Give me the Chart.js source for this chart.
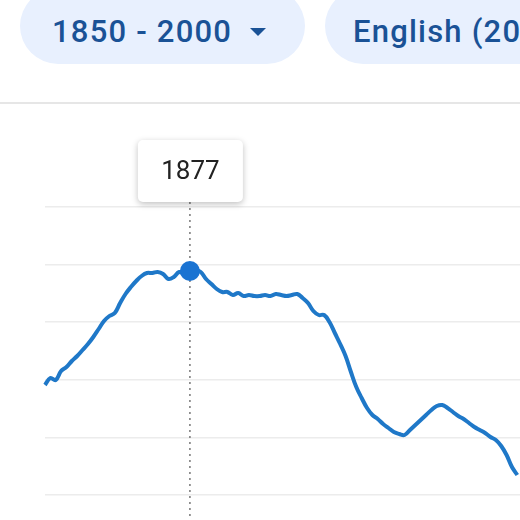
<!DOCTYPE html>
<html><head><meta charset="utf-8">
<script src="https://cdn.jsdelivr.net/npm/chart.js@4/dist/chart.umd.min.js"></script>
<style>
body{margin:0;width:520px;height:520px;overflow:hidden;background:#fff;font-family:Roboto,"Noto Sans",sans-serif;position:relative}
.pill{position:absolute;top:-12px;height:76px;border-radius:38px;background:#e8f0fe;color:#1a5296;font-size:31px;font-weight:500;display:flex;align-items:center;padding-top:10px;box-sizing:border-box;white-space:nowrap;letter-spacing:1.2px}
#p1{left:20px;width:285px;padding-left:32px}
#p2{left:325px;width:260px;padding-left:28px}
.caret{display:inline-block;width:0;height:0;border-left:8px solid transparent;border-right:8px solid transparent;border-top:8px solid #1a5296;margin-left:18px;margin-top:2px}
#rule{position:absolute;top:102px;left:0;width:520px;height:2px;background:#e6e6e6}
#c{position:absolute;left:0;top:0}
</style></head><body>
<div class="pill" id="p1">1850 - 2000<span class="caret"></span></div>
<div class="pill" id="p2">English (2019)</div>
<div id="rule"></div>
<canvas id="c" width="520" height="520"></canvas>
<script>
const years = [];
for (let y = 1850; y <= 1938; y++) years.push(y);
const values = [
  110,117,115,124,128,134,139,145,151,158,
  166,174,179,182,192,201,208,214,219,222,
  222,223,221,216,218,223,221,224,225,223,
  216,211,206,203,203,200,202,199,200,199,
  199,200,199,201,200,199,200,201,197,192,
  184,180,180,173,162,151,139,123,108,97,
  87,80,76,71,67,63,61,60,65,70,
  75,80,85,89,90,87,83,79,76,72,
  68,65,62,58,55,49,40,28,20
];
const gridTicks = [0, 57.6, 115.2, 172.8, 230.4, 288];
const hoverYear = 1877;
const hi = years.indexOf(hoverYear);

const tipPlugin = {
  id: 'tip',
  afterDatasetsDraw(chart) {
    const p = chart.getDatasetMeta(0).data[hi];
    const ctx = chart.ctx;
    ctx.save();
    ctx.strokeStyle = '#777';
    ctx.lineWidth = 1.5;
    ctx.setLineDash([2, 4]);
    ctx.beginPath();
    ctx.moveTo(p.x, 202);
    ctx.lineTo(p.x, 520);
    ctx.stroke();
    ctx.setLineDash([]);
    ctx.fillStyle = '#1a73d2';
    ctx.beginPath();
    ctx.arc(p.x, p.y, 10, 0, Math.PI * 2);
    ctx.fill();
    const w = 105, h = 62, x = p.x - 52, y = 140;
    ctx.shadowColor = 'rgba(0,0,0,0.25)';
    ctx.shadowBlur = 6;
    ctx.shadowOffsetY = 2;
    ctx.fillStyle = '#fff';
    ctx.beginPath();
    ctx.roundRect(x, y, w, h, 5);
    ctx.fill();
    ctx.shadowColor = 'transparent';
    ctx.fillStyle = '#222';
    ctx.font = '26px Roboto';
    ctx.textAlign = 'center';
    ctx.textBaseline = 'middle';
    ctx.fillText(String(hoverYear), x + w / 2, y + h / 2 + 1);
    ctx.restore();
  }
};

new Chart(document.getElementById('c'), {
  type: 'line',
  data: { datasets: [{
    data: years.map((yr, i) => ({ x: yr, y: values[i] })),
    borderColor: '#1f78c8',
    borderWidth: 4,
    pointRadius: 0,
    tension: 0.4,
    clip: false
  }]},
  options: {
    animation: false,
    responsive: false,
    devicePixelRatio: 1,
    layout: { padding: { left: 45, top: 120, right: 0, bottom: 0 } },
    plugins: { legend: { display: false }, tooltip: { enabled: false } },
    scales: {
      x: { type: 'linear', min: 1850, max: 1938.5, display: false },
      y: {
        min: -25, max: 375,
        afterBuildTicks: s => { s.ticks = gridTicks.map(v => ({ value: v })); },
        ticks: { display: false },
        border: { display: false },
        grid: { color: '#ececec', lineWidth: 1.5, drawTicks: false }
      }
    }
  },
  plugins: [tipPlugin]
});
</script>
</body></html>
